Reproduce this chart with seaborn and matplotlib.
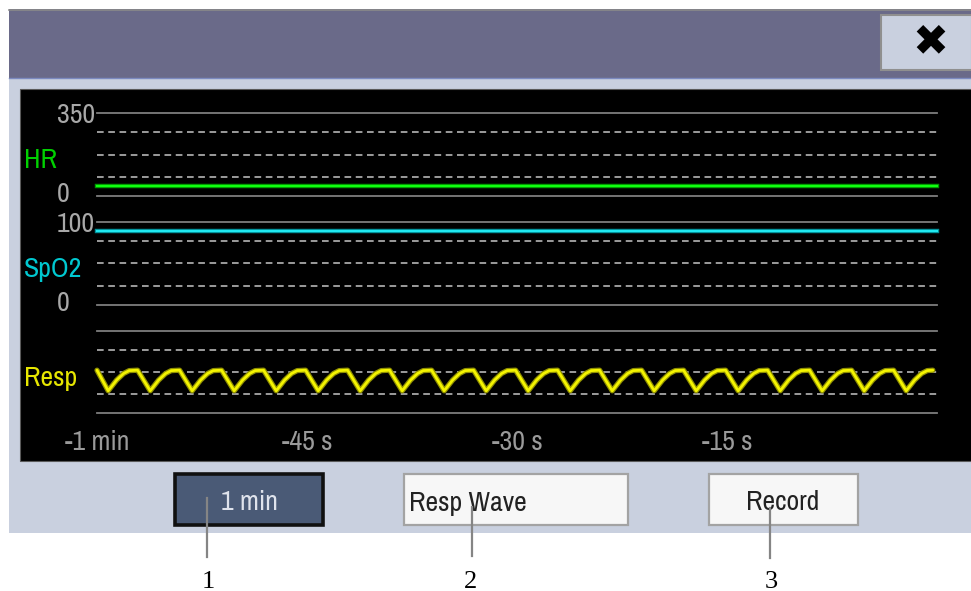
import matplotlib
matplotlib.use("Agg")
import matplotlib.pyplot as plt
import seaborn as sns
from matplotlib.patches import Rectangle
from matplotlib.lines import Line2D
from matplotlib import font_manager
from matplotlib.font_manager import FontProperties
import os

# ---------------- data ----------------
time_ticks = [-60, -45, -30, -15]
time_labels = ["-1 min", "-45 s", "-30 s", "-15 s"]

hr_t = [-60, -45, -30, -15, 0]
hr_v = [40, 40, 40, 40, 40]
hr_range = (0, 350)
hr_scale_labels = ["350", "0"]

spo2_t = [-60, -45, -30, -15, 0]
spo2_v = [89, 89, 89, 89, 89]
spo2_range = (0, 100)
spo2_scale_labels = ["100", "0"]

resp_range = (0, 100)
resp_t = [-60.0,
          -59.2, -58.6, -58.1, -57.7, -57.1,
          -56.2, -55.6, -55.1, -54.7, -54.1,
          -53.2, -52.6, -52.1, -51.7, -51.1,
          -50.2, -49.6, -49.1, -48.7, -48.1,
          -47.2, -46.6, -46.1, -45.7, -45.1,
          -44.2, -43.6, -43.1, -42.7, -42.1,
          -41.2, -40.6, -40.1, -39.7, -39.1,
          -38.2, -37.6, -37.1, -36.7, -36.1,
          -35.2, -34.6, -34.1, -33.7, -33.1,
          -32.2, -31.6, -31.1, -30.7, -30.1,
          -29.2, -28.6, -28.1, -27.7, -27.1,
          -26.2, -25.6, -25.1, -24.7, -24.1,
          -23.2, -22.6, -22.1, -21.7, -21.1,
          -20.2, -19.6, -19.1, -18.7, -18.1,
          -17.2, -16.6, -16.1, -15.7, -15.1,
          -14.2, -13.6, -13.1, -12.7, -12.1,
          -11.2, -10.6, -10.1, -9.7, -9.1,
          -8.2, -7.6, -7.1, -6.7, -6.1,
          -5.2, -4.6, -4.1, -3.7, -3.1,
          -2.2, -1.6, -1.1, -0.7, -0.3]
resp_v = [52,
          27, 40, 48, 51.5, 52,
          27, 40, 48, 51.5, 52,
          27, 40, 48, 51.5, 52,
          27, 40, 48, 51.5, 52,
          27, 40, 48, 51.5, 52,
          27, 40, 48, 51.5, 52,
          27, 40, 48, 51.5, 52,
          27, 40, 48, 51.5, 52,
          27, 40, 48, 51.5, 52,
          27, 40, 48, 51.5, 52,
          27, 40, 48, 51.5, 52,
          27, 40, 48, 51.5, 52,
          27, 40, 48, 51.5, 52,
          27, 40, 48, 51.5, 52,
          27, 40, 48, 51.5, 52,
          27, 40, 48, 51.5, 52,
          27, 40, 48, 51.5, 52,
          27, 40, 48, 51.5, 52,
          27, 40, 48, 51.5, 52,
          27, 40, 48, 51.5, 52]

param_labels = ["HR", "SpO2", "Resp"]
button_labels = ["1 min", "Resp Wave", "Record"]
callout_labels = ["1", "2", "3"]

# ---------------- fonts ----------------
plt.rcParams["lines.scale_dashes"] = False
_paths = {os.path.basename(f.fname): f.fname for f in font_manager.fontManager.ttflist}
UI_PATH = None
for cand in ("LiberationSansNarrow-Regular.ttf", "ArchivoNarrow[wght].ttf",
             "PT_Sans-Narrow-Web-Regular.ttf", "DejaVuSansCondensed.ttf"):
    if cand in _paths:
        UI_PATH = _paths[cand]
        break


def ui_font(size):
    if UI_PATH:
        return FontProperties(fname=UI_PATH, size=size)
    return FontProperties(family="Liberation Sans", size=size)


W, H = 971, 591
fig = plt.figure(figsize=(W / 100, H / 100), dpi=100)
fig.patch.set_facecolor("white")


def fx(x):
    return x / W


def fy(y):
    return 1 - y / H


def box(x0, y0, x1, y1, fc, ec="none", lw=0, z=1):
    r = Rectangle((fx(x0), fy(y1)), (x1 - x0) / W, (y1 - y0) / H,
                  transform=fig.transFigure, facecolor=fc, edgecolor=ec,
                  linewidth=lw, zorder=z)
    fig.add_artist(r)


def txt(x, y, s, size=20, fp=None, **kw):
    kw.setdefault("va", "baseline")
    kw.setdefault("zorder", 3)
    fig.text(fx(x), fy(y), s, fontproperties=fp if fp is not None else ui_font(size), **kw)


def vline(x, y0, y1, color="#858585", lw=1.6, z=4):
    fig.add_artist(Line2D([fx(x), fx(x)], [fy(y0), fy(y1)], transform=fig.transFigure,
                          color=color, lw=lw, zorder=z))


# window frame
box(9, 78, 971, 533, "#c9d0df")               # light panel
box(9, 9, 971, 78, "#6a6a89")                 # title bar
fig.add_artist(Line2D([fx(9), 1], [fy(9.5), fy(9.5)], transform=fig.transFigure,
                      color="#8a8a8a", lw=1.2, zorder=2))
fig.add_artist(Line2D([fx(9), 1], [fy(77.5), fy(77.5)], transform=fig.transFigure,
                      color="#7c8ac0", lw=1.0, zorder=2))
box(881, 15, 972, 70, "#c9d0df", ec="#8f8f8f", lw=1.5, z=2)
txt(930, 42.5, "\u2716", fp=FontProperties(family="DejaVu Sans", size=31),
    ha="center", va="center", color="black")
box(20, 89, 972, 461, "black", ec="#5a5a5a", lw=0.8, z=1.5)

# ---------------- trend axes ----------------
X0, X1 = 97, 937
GRID_SOLID = "#7e7e7e"
GRID_DASH = "#9c9c9c"
DASH = (0, (4.8, 3.3))


def band(y_top, y_bot, yr):
    ax = fig.add_axes([fx(X0), fy(y_bot), (X1 - X0) / W, (y_bot - y_top) / H])
    ax.set_facecolor("none")
    ax.set_zorder(5)
    ax.set_xlim(-60, 0)
    ax.set_ylim(*yr)
    for s in ax.spines.values():
        s.set_visible(False)
    ax.set_yticks([])
    ax.set_xticks([])
    span = yr[1] - yr[0]
    for v in (yr[0], yr[1]):
        ax.axhline(v, color=GRID_SOLID, lw=1.3, clip_on=False, zorder=1)
    for f in (0.23, 0.50, 0.77):
        ax.axhline(yr[0] + f * span, color=GRID_DASH, lw=1.4, ls=DASH,
                   clip_on=False, zorder=1)
    return ax


ax_hr = band(113.3, 195.7, hr_range)
ax_sp = band(221.7, 304.7, spo2_range)
ax_rs = band(330.7, 413.0, resp_range)

sns.lineplot(x=hr_t, y=hr_v, ax=ax_hr, color="#009000", lw=3.2, estimator=None,
             sort=False, clip_on=False, zorder=3)
sns.lineplot(x=hr_t, y=hr_v, ax=ax_hr, color="#10ff10", lw=1.6, estimator=None,
             sort=False, clip_on=False, zorder=4)
sns.lineplot(x=spo2_t, y=spo2_v, ax=ax_sp, color="#008a92", lw=3.2, estimator=None,
             sort=False, clip_on=False, zorder=3)
sns.lineplot(x=spo2_t, y=spo2_v, ax=ax_sp, color="#20e8f0", lw=1.6, estimator=None,
             sort=False, clip_on=False, zorder=4)
sns.lineplot(x=resp_t, y=resp_v, ax=ax_rs, color="#8f8f00", lw=3.8, estimator=None,
             sort=False, clip_on=False, zorder=3, solid_joinstyle="round",
             solid_capstyle="round")
sns.lineplot(x=resp_t, y=resp_v, ax=ax_rs, color="#f4f400", lw=2.0, estimator=None,
             sort=False, clip_on=False, zorder=4, solid_joinstyle="round",
             solid_capstyle="round")

for ax in (ax_hr, ax_sp, ax_rs):
    ax.set_xlim(-60, 0)
    ax.set_xlabel("")
    ax.set_ylabel("")

ax_rs.set_xticks(time_ticks, time_labels)
ax_rs.tick_params(axis="x", length=0, pad=12.5, colors="#9a9a9a")
for lbl in ax_rs.get_xticklabels():
    lbl.set_fontproperties(ui_font(20))

# scale numbers and parameter names
SCALE_C = "#a8a8a8"
txt(57, 123.5, hr_scale_labels[0], color=SCALE_C)
txt(57, 201.7, hr_scale_labels[1], color=SCALE_C)
txt(57, 232.0, spo2_scale_labels[0], color=SCALE_C)
txt(57, 311.0, spo2_scale_labels[1], color=SCALE_C)
txt(24, 168.0, param_labels[0], color="#00d000")
txt(24, 277.0, param_labels[1], color="#00c8d0")
txt(24, 386.0, param_labels[2], color="#e6e600")

# ---------------- buttons ----------------
box(175, 473.5, 323, 524.5, "#4a5a76", ec="#101010", lw=2.6, z=2)
txt(249, 510.5, button_labels[0], ha="center", color="#dfe3ec")
box(404, 474, 628, 524.5, "#f7f7f7", ec="#a3a3a3", lw=1.6, z=2)
txt(409, 510.5, button_labels[1], ha="left", color="#222222")
box(708.5, 474, 857.5, 524.5, "#f7f7f7", ec="#a3a3a3", lw=1.6, z=2)
txt(782.5, 510.5, button_labels[2], ha="center", color="#222222")

# ---------------- callouts ----------------
vline(207, 498, 557)
vline(471.5, 507, 556)
vline(770, 508, 558)
SERIF_FP = FontProperties(family="Liberation Serif", size=19)
txt(208, 587.5, callout_labels[0], fp=SERIF_FP, ha="center", color="black")
txt(470.5, 587.5, callout_labels[1], fp=SERIF_FP, ha="center", color="black")
txt(771, 587.5, callout_labels[2], fp=SERIF_FP, ha="center", color="black")

fig.savefig("out.png", dpi=100, facecolor="white")
